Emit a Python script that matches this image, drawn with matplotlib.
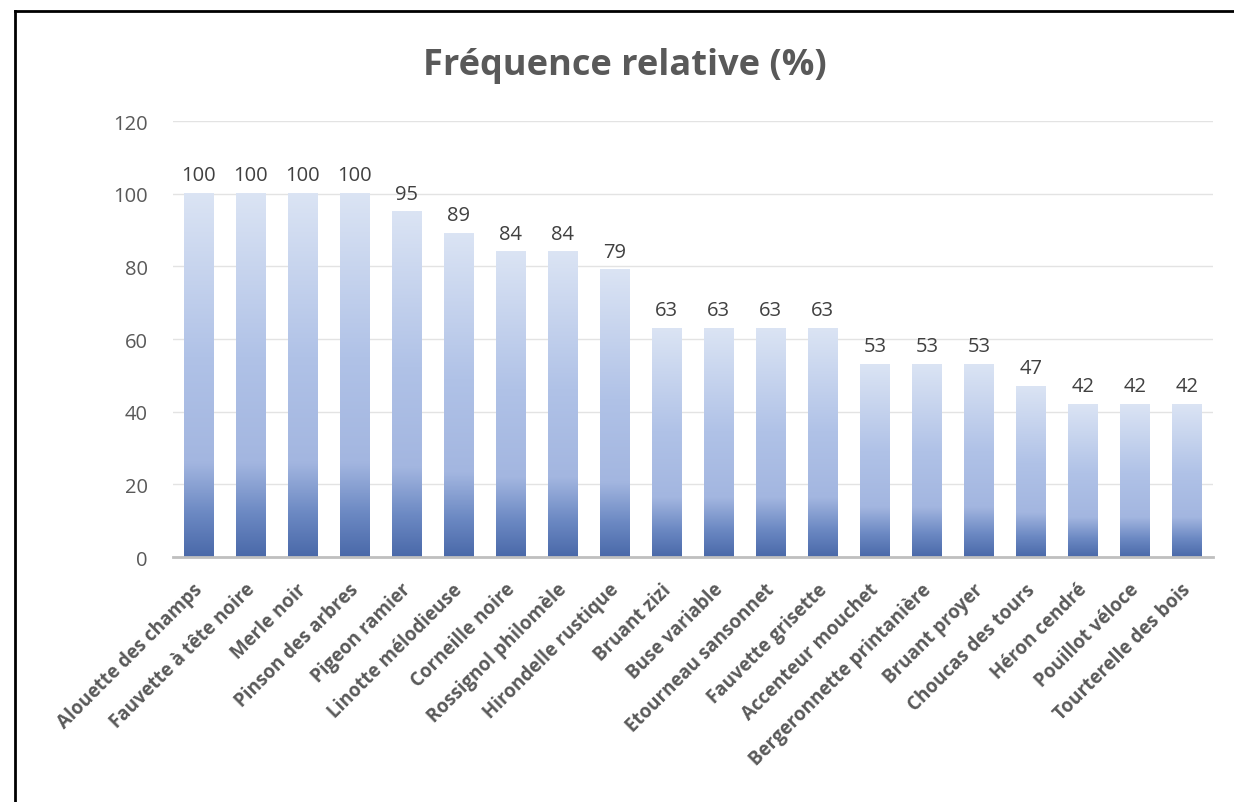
import matplotlib
matplotlib.use("Agg")
import matplotlib.pyplot as plt
import matplotlib.colors as mcolors
import matplotlib.transforms as mtransforms
from matplotlib.lines import Line2D
import numpy as np

# --- DATA ---
species = ["Alouette des champs", "Fauvette à tête noire", "Merle noir",
           "Pinson des arbres", "Pigeon ramier", "Linotte mélodieuse",
           "Corneille noire", "Rossignol philomèle", "Hirondelle rustique",
           "Bruant zizi", "Buse variable", "Etourneau sansonnet",
           "Fauvette grisette", "Accenteur mouchet", "Bergeronnette printanière",
           "Bruant proyer", "Choucas des tours", "Héron cendré",
           "Pouillot véloce", "Tourterelle des bois"]
freq = [100, 100, 100, 100, 95, 89, 84, 84, 79, 63, 63, 63, 63, 53, 53, 53, 47, 42, 42, 42]
yticks = [0, 20, 40, 60, 80, 100, 120]

plt.rcParams["font.family"] = ["Open Sans", "DejaVu Sans"]
GREY = "#595959"

fig = plt.figure(figsize=(12.34, 8.03), dpi=100)
ax = fig.add_axes([0.1398, 0.305, 0.983 - 0.1398, 0.848 - 0.305])

# gradient like Excel's fill: dark at the bottom, light at the top
grad = mcolors.LinearSegmentedColormap.from_list("bars", [
    (0.0, "#4a69a9"), (0.12, "#6c89c3"), (0.26, "#a3b6e0"),
    (0.55, "#b0c2e7"), (1.0, "#dbe4f4")])
gradient = np.linspace(0, 1, 256).reshape(-1, 1)

x = np.arange(len(species))
width = 0.56
bars = ax.bar(x, freq, width=width, color="none", zorder=2)
for b, v in zip(bars, freq):
    x0 = b.get_x()
    ax.imshow(gradient, cmap=grad, origin="lower", aspect="auto",
              extent=(x0, x0 + width, 0, v), zorder=2)
    ax.annotate(f"{v}", (b.get_x() + width / 2, v), xytext=(0, 6),
                textcoords="offset points", ha="center", va="bottom",
                fontsize=14.5, color="#404040")

ax.set_xlim(-0.5, len(species) - 0.5)
ax.set_ylim(0, 120)
ax.set_yticks(yticks)
ax.yaxis.grid(True, color="#e3e3e3", linewidth=1)
ax.set_axisbelow(True)
for s in ["top", "right", "left"]:
    ax.spines[s].set_visible(False)
ax.spines["bottom"].set_color("#bfbfbf")
ax.spines["bottom"].set_linewidth(2)
ax.spines["bottom"].set_zorder(3)
ax.tick_params(axis="both", length=0, colors=GREY)
ax.tick_params(axis="y", labelsize=14.5, pad=18)
ax.set_xticks(x)
ax.set_xticklabels(species, rotation=45, ha="right", rotation_mode="anchor",
                   fontsize=13.5, fontweight="bold", color=GREY)
ax.tick_params(axis="x", pad=16)
shift = mtransforms.ScaledTranslation(-6 / 100, 0, fig.dpi_scale_trans)
for lab in ax.get_xticklabels():
    lab.set_transform(lab.get_transform() + shift)

fig.text(0.506, 0.918, "Fréquence relative (%)", ha="center", va="center",
         fontsize=26, fontweight="bold", color=GREY)

# black frame (left and top edges)
fx, fy = 15 / 1234, 1 - 12 / 803
fig.add_artist(Line2D([fx, fx], [0, fy], color="black", linewidth=2))
fig.add_artist(Line2D([fx, 1], [fy, fy], color="black", linewidth=2))

fig.savefig("out.png", dpi=100, facecolor="white")
